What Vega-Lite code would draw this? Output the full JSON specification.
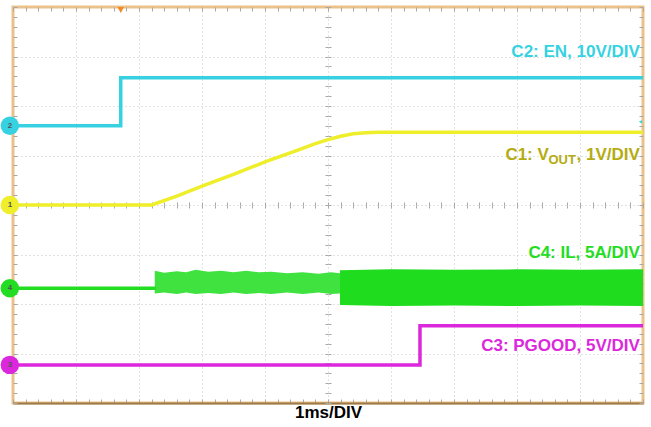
{
  "$schema": "https://vega.github.io/schema/vega-lite/v6.json",
  "width": 630,
  "height": 396,
  "autosize": {"type": "none"},
  "padding": {"left": 13, "top": 7, "right": 8, "bottom": 24},
  "background": "white",
  "config": {
    "view": {"stroke": "#efc283", "strokeWidth": 3},
    "axis": {"labels": false, "title": null, "domain": false, "ticks": false, "grid": false}
  },
  "datasets": {
    "traces": [
      {"ch": "C2", "t": 0, "v": 1.6}, {"ch": "C2", "t": 1.71, "v": 1.6}, {"ch": "C2", "t": 1.71, "v": 2.57}, {"ch": "C2", "t": 10, "v": 2.57},
      {"ch": "C1", "t": 0, "v": 0}, {"ch": "C1", "t": 2.2, "v": 0}, {"ch": "C1", "t": 2.6, "v": 0.18}, {"ch": "C1", "t": 3.0, "v": 0.38},
      {"ch": "C1", "t": 3.5, "v": 0.62}, {"ch": "C1", "t": 4.0, "v": 0.87}, {"ch": "C1", "t": 4.5, "v": 1.1}, {"ch": "C1", "t": 4.8, "v": 1.24},
      {"ch": "C1", "t": 5.0, "v": 1.32}, {"ch": "C1", "t": 5.2, "v": 1.39}, {"ch": "C1", "t": 5.4, "v": 1.44}, {"ch": "C1", "t": 5.6, "v": 1.46},
      {"ch": "C1", "t": 5.8, "v": 1.47}, {"ch": "C1", "t": 10, "v": 1.47},
      {"ch": "C4", "t": 0, "v": -1.68}, {"ch": "C4", "t": 2.27, "v": -1.68},
      {"ch": "C3", "t": 0, "v": -3.23}, {"ch": "C3", "t": 6.46, "v": -3.23}, {"ch": "C3", "t": 6.46, "v": -2.44}, {"ch": "C3", "t": 10, "v": -2.44}
    ],
    "bands": [
      {"seg": "early", "t": 2.25, "hi": -1.33, "lo": -1.79},
      {"seg": "early", "t": 2.4, "hi": -1.37, "lo": -1.77},
      {"seg": "early", "t": 2.6, "hi": -1.34, "lo": -1.8},
      {"seg": "early", "t": 2.75, "hi": -1.36, "lo": -1.77},
      {"seg": "early", "t": 2.9, "hi": -1.31, "lo": -1.8},
      {"seg": "early", "t": 3.1, "hi": -1.35, "lo": -1.78},
      {"seg": "early", "t": 3.3, "hi": -1.33, "lo": -1.8},
      {"seg": "early", "t": 3.5, "hi": -1.36, "lo": -1.77},
      {"seg": "early", "t": 3.7, "hi": -1.33, "lo": -1.8},
      {"seg": "early", "t": 3.9, "hi": -1.36, "lo": -1.78},
      {"seg": "early", "t": 4.1, "hi": -1.35, "lo": -1.8},
      {"seg": "early", "t": 4.35, "hi": -1.38, "lo": -1.77},
      {"seg": "early", "t": 4.6, "hi": -1.36, "lo": -1.8},
      {"seg": "early", "t": 4.85, "hi": -1.39, "lo": -1.77},
      {"seg": "early", "t": 5.05, "hi": -1.36, "lo": -1.8},
      {"seg": "early", "t": 5.19, "hi": -1.38, "lo": -1.79},
      {"seg": "dense", "t": 5.19, "hi": -1.32, "lo": -2.02},
      {"seg": "dense", "t": 6.0, "hi": -1.3, "lo": -2.04},
      {"seg": "dense", "t": 7.0, "hi": -1.31, "lo": -2.03},
      {"seg": "dense", "t": 8.0, "hi": -1.3, "lo": -2.04},
      {"seg": "dense", "t": 9.0, "hi": -1.31, "lo": -2.03},
      {"seg": "dense", "t": 10, "hi": -1.3, "lo": -2.04}
    ],
    "markers": [
      {"ch": "C2", "num": "2", "t": -0.05, "v": 1.6},
      {"ch": "C1", "num": "1", "t": -0.05, "v": 0},
      {"ch": "C4", "num": "4", "t": -0.05, "v": -1.68},
      {"ch": "C3", "num": "3", "t": -0.05, "v": -3.23}
    ],
    "labels": [
      {"ch": "C2", "text": "C2: EN, 10V/DIV", "t": 9.95, "v": 3.09},
      {"ch": "C4", "text": "C4: IL, 5A/DIV", "t": 9.95, "v": -0.97},
      {"ch": "C3", "text": "C3: PGOOD, 5V/DIV", "t": 9.95, "v": -2.85}
    ],
    "vout": [
      {"part": "a", "text": "C1: V", "t": 9.95, "v": 1.01},
      {"part": "b", "text": "OUT", "t": 9.95, "v": 1.01},
      {"part": "c", "text": ", 1V/DIV", "t": 9.95, "v": 1.01}
    ],
    "trigger": [{"t": 1.71, "v": 4}],
    "refarrow": [{"t": 9.96, "v": 1.68}]
  },
  "resolve": {"axis": {"x": "independent", "y": "independent"}},
  "layer": [
    {
      "data": {"name": "bands"},
      "mark": {"type": "area", "interpolate": "linear"},
      "encoding": {
        "x": {"field": "t", "type": "quantitative", "scale": {"domain": [0, 10], "nice": false, "zero": false},
          "axis": {"orient": "bottom", "values": [0,1,2,3,4,5,6,7,8,9,10], "grid": true, "gridColor": "#c4c4c4", "gridDash": [1, 3], "gridWidth": 1,
            "title": "1ms/DIV", "titleFont": "Liberation Sans", "titleFontSize": 17, "titleFontWeight": "bold", "titleColor": "#000000", "titlePadding": 1}},
        "y": {"field": "hi", "type": "quantitative", "scale": {"domain": [-4, 4], "nice": false, "zero": false},
          "axis": {"orient": "left", "values": [-4,-3,-2,-1,0,1,2,3,4], "grid": true, "gridColor": "#c4c4c4", "gridDash": [1, 3], "gridWidth": 1}},
        "y2": {"field": "lo"},
        "detail": {"field": "seg"},
        "fill": {"field": "seg", "type": "nominal", "scale": {"domain": ["early", "dense"], "range": ["#3fe23f", "#1fdc1f"]}, "legend": null}
      }
    },
    {
      "data": {"name": "traces"},
      "mark": {"type": "line", "strokeWidth": 3.5, "interpolate": "linear"},
      "encoding": {
        "x": {"field": "t", "type": "quantitative",
          "axis": {"orient": "top", "values": [0,0.2,0.4,0.6,0.8,1,1.2,1.4,1.6,1.8,2,2.2,2.4,2.6,2.8,3,3.2,3.4,3.6,3.8,4,4.2,4.4,4.6,4.8,5,5.2,5.4,5.6,5.8,6,6.2,6.4,6.6,6.8,7,7.2,7.4,7.6,7.8,8,8.2,8.4,8.6,8.8,9,9.2,9.4,9.6,9.8,10], "ticks": true, "tickSize": -4, "tickColor": "#a8a8a8"}},
        "y": {"field": "v", "type": "quantitative",
          "axis": {"orient": "right", "values": [-4,-3.8,-3.6,-3.4,-3.2,-3,-2.8,-2.6,-2.4,-2.2,-2,-1.8,-1.6,-1.4,-1.2,-1,-0.8,-0.6,-0.4,-0.2,0,0.2,0.4,0.6,0.8,1,1.2,1.4,1.6,1.8,2,2.2,2.4,2.6,2.8,3,3.2,3.4,3.6,3.8,4], "ticks": true, "tickSize": -4, "tickColor": "#a8a8a8"}},
        "color": {"field": "ch", "type": "nominal", "scale": {"domain": ["C1", "C2", "C3", "C4"], "range": ["#eeee2a", "#36d2e2", "#dc28dc", "#22dd22"]}, "legend": null},
        "detail": {"field": "ch"}
      }
    },
    {
      "data": {"name": "markers"},
      "mark": {"type": "circle", "size": 340, "opacity": 1, "clip": false},
      "encoding": {
        "x": {"field": "t", "type": "quantitative",
          "axis": {"orient": "bottom", "values": [0,0.2,0.4,0.6,0.8,1,1.2,1.4,1.6,1.8,2,2.2,2.4,2.6,2.8,3,3.2,3.4,3.6,3.8,4,4.2,4.4,4.6,4.8,5,5.2,5.4,5.6,5.8,6,6.2,6.4,6.6,6.8,7,7.2,7.4,7.6,7.8,8,8.2,8.4,8.6,8.8,9,9.2,9.4,9.6,9.8,10], "ticks": true, "tickSize": -4, "tickColor": "#a8a8a8", "domain": true, "domainColor": "#9a7a4c", "domainWidth": 2}},
        "y": {"field": "v", "type": "quantitative",
          "axis": {"orient": "left", "values": [-4,-3.8,-3.6,-3.4,-3.2,-3,-2.8,-2.6,-2.4,-2.2,-2,-1.8,-1.6,-1.4,-1.2,-1,-0.8,-0.6,-0.4,-0.2,0,0.2,0.4,0.6,0.8,1,1.2,1.4,1.6,1.8,2,2.2,2.4,2.6,2.8,3,3.2,3.4,3.6,3.8,4], "ticks": true, "tickSize": -4, "tickColor": "#a8a8a8"}},
        "color": {"field": "ch", "type": "nominal", "legend": null}
      }
    },
    {
      "data": {"name": "markers"},
      "mark": {"type": "text", "fontSize": 8, "fontWeight": "bold", "font": "Liberation Sans", "color": "#555555", "clip": false, "baseline": "middle", "align": "center"},
      "encoding": {
        "x": {"field": "t", "type": "quantitative",
          "axis": {"orient": "bottom", "offset": -198, "values": [0,0.2,0.4,0.6,0.8,1,1.2,1.4,1.6,1.8,2,2.2,2.4,2.6,2.8,3,3.2,3.4,3.6,3.8,4,4.2,4.4,4.6,4.8,5,5.2,5.4,5.6,5.8,6,6.2,6.4,6.6,6.8,7,7.2,7.4,7.6,7.8,8,8.2,8.4,8.6,8.8,9,9.2,9.4,9.6,9.8,10], "ticks": true, "tickSize": 3, "tickColor": "#a8a8a8"}},
        "y": {"field": "v", "type": "quantitative",
          "axis": {"orient": "left", "offset": -315, "values": [-4,-3.8,-3.6,-3.4,-3.2,-3,-2.8,-2.6,-2.4,-2.2,-2,-1.8,-1.6,-1.4,-1.2,-1,-0.8,-0.6,-0.4,-0.2,0,0.2,0.4,0.6,0.8,1,1.2,1.4,1.6,1.8,2,2.2,2.4,2.6,2.8,3,3.2,3.4,3.6,3.8,4], "ticks": true, "tickSize": 3, "tickColor": "#a8a8a8"}},
        "text": {"field": "num"}
      }
    },
    {
      "data": {"name": "labels"},
      "mark": {"type": "text", "fontSize": 17, "fontWeight": "bold", "font": "Liberation Sans", "align": "right", "baseline": "middle"},
      "encoding": {
        "x": {"field": "t", "type": "quantitative",
          "axis": {"orient": "top", "offset": -198, "values": [0,0.2,0.4,0.6,0.8,1,1.2,1.4,1.6,1.8,2,2.2,2.4,2.6,2.8,3,3.2,3.4,3.6,3.8,4,4.2,4.4,4.6,4.8,5,5.2,5.4,5.6,5.8,6,6.2,6.4,6.6,6.8,7,7.2,7.4,7.6,7.8,8,8.2,8.4,8.6,8.8,9,9.2,9.4,9.6,9.8,10], "ticks": true, "tickSize": 3, "tickColor": "#a8a8a8"}},
        "y": {"field": "v", "type": "quantitative",
          "axis": {"orient": "right", "offset": -315, "values": [-4,-3.8,-3.6,-3.4,-3.2,-3,-2.8,-2.6,-2.4,-2.2,-2,-1.8,-1.6,-1.4,-1.2,-1,-0.8,-0.6,-0.4,-0.2,0,0.2,0.4,0.6,0.8,1,1.2,1.4,1.6,1.8,2,2.2,2.4,2.6,2.8,3,3.2,3.4,3.6,3.8,4], "ticks": true, "tickSize": 3, "tickColor": "#a8a8a8"}},
        "text": {"field": "text"},
        "color": {"field": "ch", "type": "nominal", "legend": null}
      }
    },
    {
      "data": {"name": "vout"},
      "transform": [{"filter": "datum.part === 'c'"}],
      "mark": {"type": "text", "fontSize": 17, "fontWeight": "bold", "font": "Liberation Sans", "align": "right", "baseline": "middle", "color": "#b4ac10"},
      "encoding": {
        "x": {"field": "t", "type": "quantitative", "axis": null},
        "y": {"field": "v", "type": "quantitative", "axis": null},
        "text": {"field": "text"}
      }
    },
    {
      "data": {"name": "vout"},
      "transform": [{"filter": "datum.part === 'b'"}],
      "mark": {"type": "text", "fontSize": 13, "fontWeight": "bold", "font": "Liberation Sans", "align": "right", "baseline": "middle", "color": "#b4ac10", "dx": -64, "dy": 5},
      "encoding": {
        "x": {"field": "t", "type": "quantitative", "axis": null},
        "y": {"field": "v", "type": "quantitative", "axis": null},
        "text": {"field": "text"}
      }
    },
    {
      "data": {"name": "vout"},
      "transform": [{"filter": "datum.part === 'a'"}],
      "mark": {"type": "text", "fontSize": 17, "fontWeight": "bold", "font": "Liberation Sans", "align": "right", "baseline": "middle", "color": "#b4ac10", "dx": -91},
      "encoding": {
        "x": {"field": "t", "type": "quantitative", "axis": null},
        "y": {"field": "v", "type": "quantitative", "axis": null},
        "text": {"field": "text"}
      }
    },
    {
      "data": {"name": "trigger"},
      "mark": {"type": "point", "shape": "triangle-down", "filled": true, "size": 45, "color": "#f08a24", "opacity": 1, "clip": false, "yOffset": 3},
      "encoding": {
        "x": {"field": "t", "type": "quantitative", "axis": null},
        "y": {"field": "v", "type": "quantitative", "axis": null}
      }
    },
    {
      "data": {"name": "refarrow"},
      "mark": {"type": "point", "shape": "triangle-left", "filled": true, "size": 14, "color": "#3ad4e4", "opacity": 1},
      "encoding": {
        "x": {"field": "t", "type": "quantitative", "axis": null},
        "y": {"field": "v", "type": "quantitative", "axis": null}
      }
    }
  ]
}
